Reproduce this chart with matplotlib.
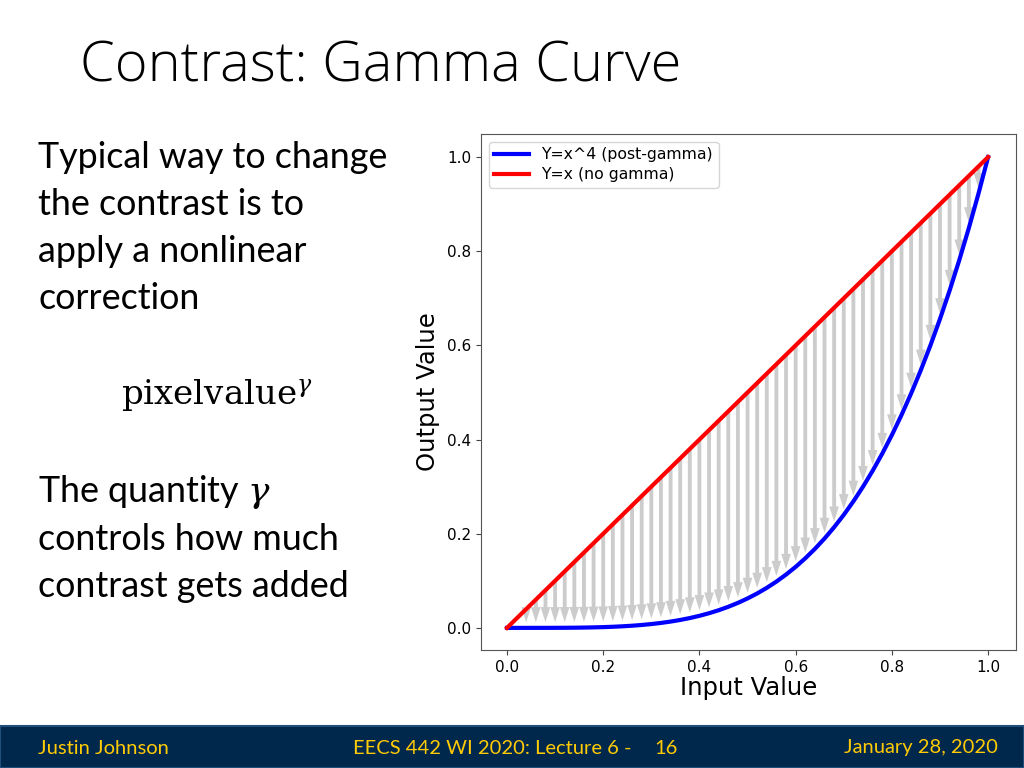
import numpy as np
import matplotlib.pyplot as plt

# input grid of the gamma plot (x values) and the exponent from the legend
input_x = [0.00, 0.02, 0.04, 0.06, 0.08, 0.10, 0.12, 0.14, 0.16, 0.18,
           0.20, 0.22, 0.24, 0.26, 0.28, 0.30, 0.32, 0.34, 0.36, 0.38,
           0.40, 0.42, 0.44, 0.46, 0.48, 0.50, 0.52, 0.54, 0.56, 0.58,
           0.60, 0.62, 0.64, 0.66, 0.68, 0.70, 0.72, 0.74, 0.76, 0.78,
           0.80, 0.82, 0.84, 0.86, 0.88, 0.90, 0.92, 0.94, 0.96, 0.98, 1.00]
gamma = 4
arrow_x = input_x[2:-1]

x_ticks = [0.0, 0.2, 0.4, 0.6, 0.8, 1.0]
y_ticks = [0.0, 0.2, 0.4, 0.6, 0.8, 1.0]

title = "Contrast: Gamma Curve"
body_top = ["Typical way to change", "the contrast is to",
            "apply a nonlinear", "correction"]
body_bottom = [r"The quantity $\gamma$", "controls how much", "contrast gets added"]
footer_left = "Justin Johnson"
footer_mid = "EECS 442 WI 2020: Lecture 6 -"
footer_page = "16"
footer_right = "January 28, 2020"

plt.rcParams['mathtext.fontset'] = 'dejavuserif'

W, H = 1024, 768
def fy(py):
    return 1 - py / H
def fx(px):
    return px / W

fig = plt.figure(figsize=(10.24, 7.68), dpi=100)
fig.patch.set_facecolor('white')

# slide title and body text
fig.text(fx(80), fy(67), title, fontsize=40.3, family='Open Sans', fontweight=300,
         va='center', ha='left', color='black')
for i, line in enumerate(body_top):
    fig.text(fx(38), fy(157 + 47.3 * i), line, fontsize=25.8, family='Lato',
             va='center', ha='left', color='black')
fig.text(fx(121), fy(396), r"pixelvalue$^{\gamma}$", fontsize=24.5,
         family='DejaVu Serif', va='center', ha='left', color='black')
for i, line in enumerate(body_bottom):
    fig.text(fx(38), fy(492 + 47.3 * i), line, fontsize=25.8, family='Lato',
             va='center', ha='left', color='black')

# footer bar
fig.patches.append(plt.Rectangle((0, 0), 1, fy(726), transform=fig.transFigure,
                                 facecolor='#00274C', edgecolor='#1f4f7a', lw=1.5))
ffam = 'Lato'
fcol = '#FFCB05'
fs = 14.5
fig.text(fx(38), fy(748), footer_left, fontsize=fs, family=ffam, color=fcol, va='center')
fig.text(fx(353), fy(748), footer_mid, fontsize=fs, family=ffam, color=fcol, va='center')
fig.text(fx(654), fy(748), footer_page, fontsize=fs, family=ffam, color=fcol, va='center')
fig.text(fx(998), fy(748), footer_right, fontsize=fs, family=ffam, color=fcol,
         va='center', ha='right')

# the chart
ax = fig.add_axes([fx(481), fy(650), fx(1016) - fx(481), fy(134) - fy(650)])
xs = np.array(input_x)
ys = xs ** gamma
for x in arrow_x:
    dy = x ** gamma - x + 0.012
    ax.arrow(x, x, 0, dy, width=0.008, head_width=0.02, head_length=0.032,
             length_includes_head=True, color='#cccccc', lw=0, zorder=1)
ax.plot(xs, ys, color='blue', lw=3, label='Y=x^4 (post-gamma)', zorder=3)
ax.plot(xs, xs, color='red', lw=3, label='Y=x (no gamma)', zorder=4)
ax.set_xlim(-0.054, 1.058)
ax.set_ylim(-0.047, 1.049)
ax.set_xticks(x_ticks)
ax.set_yticks(y_ticks)
ax.tick_params(labelsize=11, color='#444444')
for s in ax.spines.values():
    s.set_color('#555555')
ax.set_xlabel('Input Value', fontsize=17.5, labelpad=1)
ax.set_ylabel('Output Value', fontsize=17.5, labelpad=5)
ax.legend(loc='upper left', fontsize=11.3, handlelength=2.2, borderpad=0.35,
          labelspacing=0.3)

fig.savefig('out.png', dpi=100)
